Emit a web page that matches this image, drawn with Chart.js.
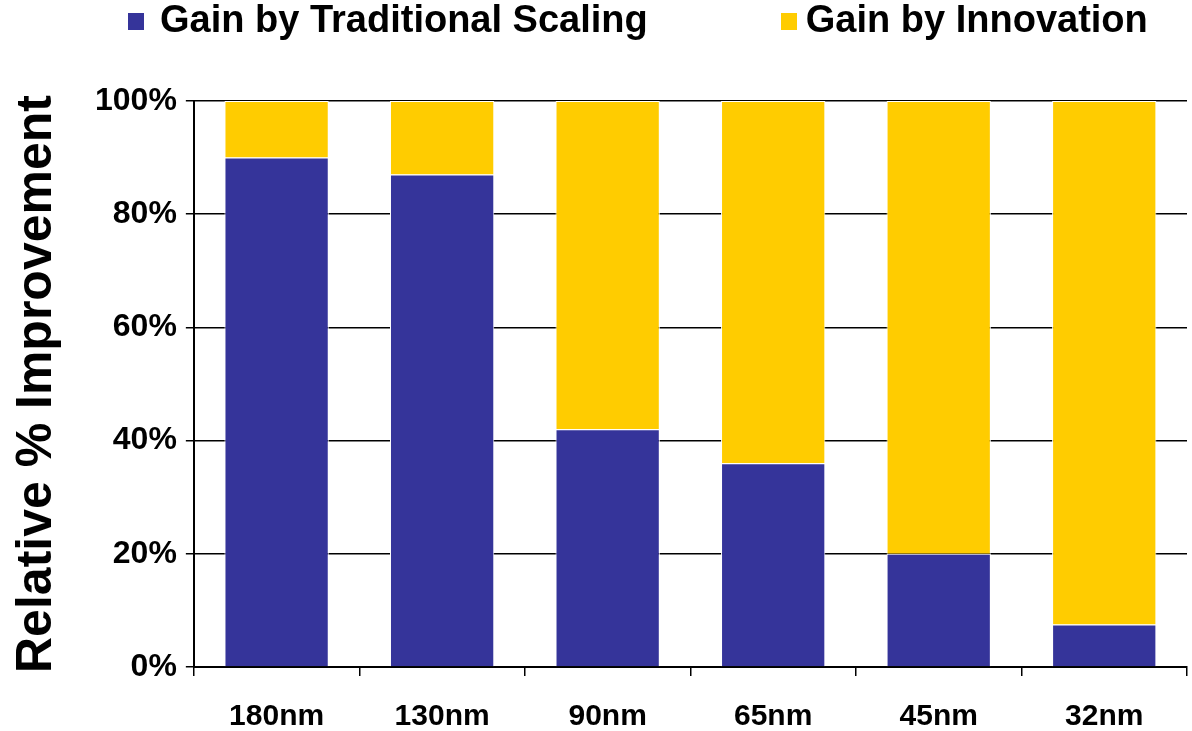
<!DOCTYPE html>
<html>
<head>
<meta charset="utf-8">
<script src="https://cdn.jsdelivr.net/npm/chart.js@4/dist/chart.umd.min.js"></script>
<style>
  html, body { margin: 0; padding: 0; background: #fff; }
  #wrap { position: relative; width: 1192px; height: 731px; }
  #legend {
    position: absolute; top: -2px; left: 128px;
    font-family: "Liberation Sans", Arial, sans-serif;
    font-weight: bold; font-size: 38px; color: #000;
    display: flex; align-items: center; white-space: nowrap;
  }
  #legend .item { display: flex; align-items: center; }
  #legend .box { width: 16px; height: 17px; margin-right: 16px; margin-top: 3px; }
  #legend .item + .item { margin-left: 133px; }
  #legend .item + .item .box { margin-right: 9px; }
</style>
</head>
<body>
<div id="wrap">
  <div id="legend"></div>
  <canvas id="chart" width="1192" height="731"></canvas>
</div>
<script>
// ===== DATA =====
const nodes = ["180nm", "130nm", "90nm", "65nm", "45nm", "32nm"];
const scalingGain = [90, 87, 42, 36, 20, 7.5];
const innovationGain = [10, 13, 58, 64, 80, 92.5];
const yTicks = [0, 20, 40, 60, 80, 100];

const seriesNames = ["Gain by Traditional Scaling", "Gain by Innovation"];
const seriesColors = ["#35349A", "#FFCC00"];

// ===== LEGEND (html) =====
const legendEl = document.getElementById("legend");
seriesNames.forEach((name, i) => {
  const item = document.createElement("div");
  item.className = "item";
  item.innerHTML = `<span class="box" style="background:${seriesColors[i]}"></span>${name}`;
  legendEl.appendChild(item);
});

// ===== CHART =====
const FONT = "'Liberation Sans', Arial, sans-serif";
const ctx = document.getElementById("chart").getContext("2d");

new Chart(ctx, {
  type: "bar",
  data: {
    labels: nodes,
    datasets: [
      {
        label: seriesNames[0],
        data: scalingGain,
        backgroundColor: seriesColors[0],
        borderColor: "#ffffff",
        borderWidth: 1
      },
      {
        label: seriesNames[1],
        data: innovationGain,
        backgroundColor: seriesColors[1],
        borderColor: "#ffffff",
        borderWidth: 1
      }
    ]
  },
  options: {
    responsive: false,
    animation: false,
    layout: { padding: { top: 101, left: 7, right: 5, bottom: -27 } },
    plugins: {
      legend: { display: false },
      tooltip: { enabled: false }
    },
    datasets: {
      bar: { categoryPercentage: 1, barPercentage: 0.63 }
    },
    scales: {
      x: {
        stacked: true,
        grid: {
          offset: true,
          drawOnChartArea: false,
          color: "#000",
          lineWidth: 1.5,
          tickLength: 9
        },
        border: { display: true, color: "#000", width: 2 },
        ticks: {
          color: "#000",
          padding: 23,
          font: { family: FONT, size: 30, weight: "bold" }
        }
      },
      y: {
        stacked: true,
        min: 0,
        max: 100,
        afterBuildTicks: axis => {
          axis.ticks = yTicks.map(v => ({ value: v }));
        },
        grid: {
          color: "#000",
          lineWidth: 1.5,
          tickLength: 8
        },
        border: { display: true, color: "#000", width: 2 },
        ticks: {
          color: "#000",
          padding: 9,
          font: { family: FONT, size: 32, weight: "bold" },
          callback: v => v + "%"
        },
        title: {
          display: true,
          text: "Relative % Improvement",
          color: "#000",
          padding: { top: 0, bottom: 19 },
          font: { family: FONT, size: 50, weight: "bold" }
        }
      }
    }
  }
});
</script>
</body>
</html>
